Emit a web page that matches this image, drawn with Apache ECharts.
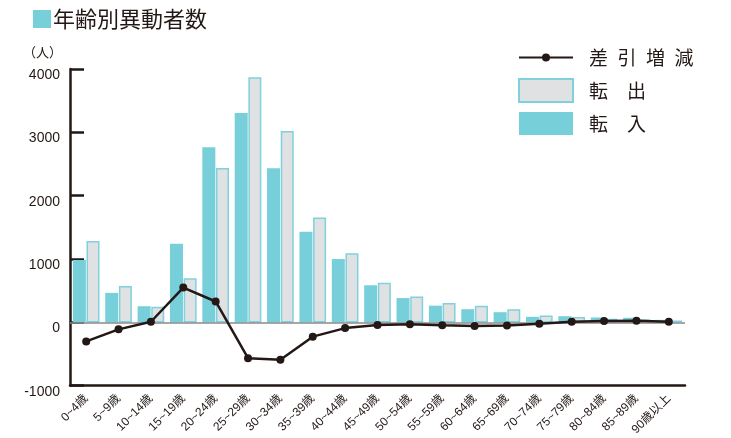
<!DOCTYPE html>
<html>
<head>
<meta charset="utf-8">
<script src="https://cdn.jsdelivr.net/npm/echarts@6/dist/echarts.min.js"></script>
<style>
html, body { margin: 0; padding: 0; background: #fff; }
#chart { width: 731px; height: 438px; }
</style>
</head>
<body>
<div id="chart"></div>
<script>
// 年齢階級
var ages = ['0~4歳', '5~9歳', '10~14歳', '15~19歳', '20~24歳', '25~29歳', '30~34歳', '35~39歳', '40~44歳', '45~49歳',
    '50~54歳', '55~59歳', '60~64歳', '65~69歳', '70~74歳', '75~79歳', '80~84歳', '85~89歳', '90歳以上'];
// 転入
var tennyu = [985, 466, 255, 1243, 2766, 3305, 2435, 1430, 1000, 586, 384, 264, 208, 161, 88, 98, 78, 73, 40];
// 転出
var tenshutsu = [1285, 575, 245, 695, 2438, 3870, 3020, 1655, 1090, 625, 410, 306, 264, 208, 110, 85, 57, 47, 30];
// 差引増減
var sabiki = [-300, -110, 10, 550, 330, -565, -590, -225, -90, -40, -28, -44, -56, -48, -20, 12, 22, 27, 10];
var yTicks = [-1000, 0, 1000, 2000, 3000, 4000];

var ink = '#231815';
var teal = '#77cfda';
var font = "'Liberation Sans', 'Noto Sans CJK JP', sans-serif";
var jpFont = "'Noto Sans CJK JP', sans-serif";

function spaced(name) {
    if (name == '差引増減') return name.split('').join('\u2002');
    return name.split('').join('\u2003');
}

var myChart = echarts.init(document.getElementById('chart'));

var option = {
    animation: false,
    title: {
        left: 28,
        top: 3,
        text: '{sq|}{t|年齢別異動者数}',
        textStyle: {
            fontWeight: 'normal',
            rich: {
                sq: { width: 18, height: 18, backgroundColor: teal },
                t: { fontSize: 22, fontWeight: 'normal', color: ink, fontFamily: jpFont, padding: [0, 0, 0, 2] }
            }
        }
    },
    legend: [
        {
            data: ['差引増減'],
            left: 513,
            top: 43,
            itemWidth: 54,
            itemHeight: 10,
            formatter: spaced,
            textStyle: { fontSize: 19, color: ink, fontFamily: jpFont, padding: [0, 0, 0, 11] }
        },
        {
            data: [{ name: '転出', icon: 'rect' }, { name: '転入', icon: 'rect' }],
            orient: 'vertical',
            left: 513,
            top: 73,
            itemWidth: 54,
            itemHeight: 23,
            itemGap: 9,
            formatter: spaced,
            textStyle: { fontSize: 19, color: ink, fontFamily: jpFont, padding: [0, 0, 0, 11] }
        }
    ],
    grid: {
        left: 70,
        right: 46,
        top: 69,
        bottom: 49
    },
    xAxis: {
        type: 'category',
        data: ages,
        axisLine: { onZero: false, lineStyle: { color: ink, width: 2.5 } },
        axisTick: { inside: true, length: 7, lineStyle: { color: ink, width: 2.5 } },
        axisLabel: { rotate: 45, fontSize: 12, color: ink, fontFamily: font, margin: 11, interval: 0 }
    },
    yAxis: {
        type: 'value',
        min: yTicks[0],
        max: yTicks[yTicks.length - 1],
        interval: 1000,
        name: '（人）',
        nameLocation: 'end',
        nameGap: 10,
        nameTextStyle: { align: 'right', padding: [0, 8, 0, 0], fontSize: 13, color: ink, fontFamily: jpFont },
        axisLine: { show: true, lineStyle: { color: ink, width: 2.5 } },
        axisTick: { show: true, inside: true, length: 14, lineStyle: { color: ink, width: 2.5 } },
        axisLabel: {
            fontSize: 14, color: ink, fontFamily: font, margin: 10,
            verticalAlign: 'top', lineHeight: 12,
            formatter: function (v) { return String(v); }
        },
        splitLine: { show: false }
    },
    series: [
        {
            name: '転入',
            type: 'bar',
            data: tennyu,
            barWidth: 13,
            barGap: '5%',
            itemStyle: { color: teal },
            markLine: {
                silent: true,
                symbol: 'none',
                label: { show: false },
                lineStyle: { color: '#8a8a8a', width: 1.5, type: 'solid' },
                data: [{ yAxis: 0 }]
            }
        },
        {
            name: '転出',
            type: 'bar',
            data: tenshutsu,
            barWidth: 13,
            itemStyle: { color: '#e0e1e3', borderColor: '#7fd2dd', borderWidth: 1.5 }
        },
        {
            name: '差引増減',
            type: 'line',
            data: sabiki,
            symbol: 'circle',
            symbolSize: 8,
            z: 5,
            itemStyle: { color: ink },
            lineStyle: { color: ink, width: 2.5 }
        }
    ]
};

myChart.setOption(option);
window.addEventListener('resize', function () {
    myChart.resize();
});
</script>
</body>
</html>
